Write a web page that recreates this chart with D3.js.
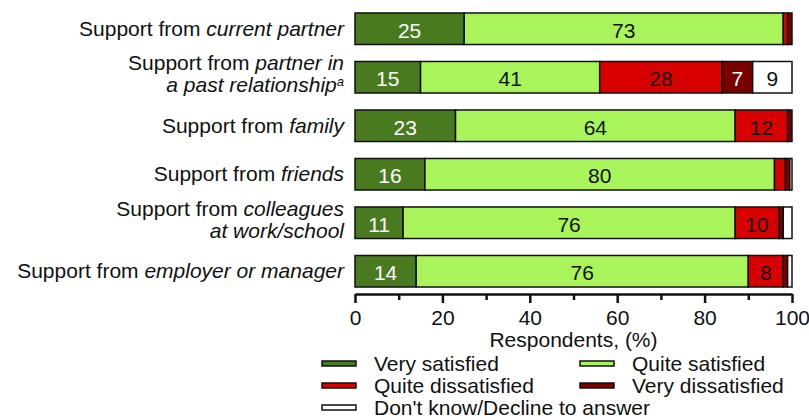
<!DOCTYPE html>
<html>
<head>
<meta charset="utf-8">
<script src="https://cdn.jsdelivr.net/npm/d3@7"></script>
<style>
  body { margin: 0; background: #fff; }
  text { font-family: "Liberation Sans", Arial, sans-serif; fill: #111; }
</style>
</head>
<body>
<svg id="chart" width="809" height="419"></svg>
<script>
// row labels: each row is a list of lines, each line a list of [text, style]
const rowLabels = [
  [[["Support from ", ""], ["current partner", "i"]]],
  [[["Support from ", ""], ["partner in", "i"]], [["a past relationship", "i"], ["a", "sup"]]],
  [[["Support from ", ""], ["family", "i"]]],
  [[["Support from ", ""], ["friends", "i"]]],
  [[["Support from ", ""], ["colleagues", "i"]], [["at work/school", "i"]]],
  [[["Support from ", ""], ["employer or manager", "i"]]]
];

const verySatisfied = [25, 15, 23, 16, 11, 14];
const quiteSatisfied = [73, 41, 64, 80, 76, 76];
const quiteDissatisfied = [1, 28, 12, 2.5, 10, 8];
const veryDissatisfied = [1, 7, 1, 1, 1, 1];
const dontKnow = [0, 9, 0, 0.5, 2, 1];

const seriesNames = ["Very satisfied", "Quite satisfied", "Quite dissatisfied", "Very dissatisfied", "Don't know/Decline to answer"];
const seriesColors = ["#4a7a20", "#a9f45a", "#d80000", "#7a0000", "#ffffff"];
const labelColors = ["#fff", "#111", "#111", "#fff", "#111"];
const xTicks = [0, 20, 40, 60, 80, 100];

const svg = d3.select("#chart");
const rows = d3.range(rowLabels.length);
const rowData = rows.map((i) => ({
  row: i,
  v0: verySatisfied[i],
  v1: quiteSatisfied[i],
  v2: quiteDissatisfied[i],
  v3: veryDissatisfied[i],
  v4: dontKnow[i]
}));

const x = d3.scaleLinear().domain([0, 100]).range([355, 792]);
const y = d3.scaleBand().domain(rows).range([4.5, 295.5]).paddingInner(0.35).paddingOuter(0.175);
const color = d3.scaleOrdinal().domain(d3.range(5)).range(seriesColors);

const stacked = d3.stack().keys(["v0", "v1", "v2", "v3", "v4"])(rowData);

// bars
const layers = svg.append("g").selectAll("g")
  .data(stacked)
  .join("g")
  .attr("fill", (d, i) => color(i));

layers.selectAll("rect")
  .data((d) => d)
  .join("rect")
  .attr("x", (d) => x(d[0]))
  .attr("y", (d) => y(d.data.row))
  .attr("width", (d) => Math.max(0, x(d[1]) - x(d[0])))
  .attr("height", y.bandwidth())
  .attr("stroke", "#111")
  .attr("stroke-width", 1.5);

// value labels
stacked.forEach((layer, k) => {
  svg.append("g").selectAll("text")
    .data(layer.filter((d) => d[1] - d[0] >= 5))
    .join("text")
    .attr("x", (d) => x((d[0] + d[1]) / 2))
    .attr("y", (d) => y(d.data.row) + y.bandwidth() / 2 + 9)
    .attr("text-anchor", "middle")
    .style("font-size", "21px")
    .style("fill", labelColors[k])
    .text((d) => d[1] - d[0]);
});

// row labels
const labelG = svg.append("g");
rowLabels.forEach((lines, i) => {
  const cy = y(i) + y.bandwidth() / 2;
  const offsets = lines.length === 1 ? [7] : [-7, 15];
  lines.forEach((parts, j) => {
    const t = labelG.append("text")
      .attr("x", 344)
      .attr("y", cy + offsets[j])
      .attr("text-anchor", "end")
      .style("font-size", "21px");
    parts.forEach(([txt, st]) => {
      const ts = t.append("tspan").text(txt);
      if (st === "i") ts.style("font-style", "italic");
      if (st === "sup") ts.style("font-style", "italic").style("font-size", "13px").attr("dy", -6);
    });
  });
});

// x axis
const axisY = 294;
const xAxis = svg.append("g")
  .attr("transform", `translate(0,${axisY})`)
  .call(d3.axisBottom(x).tickValues(xTicks).tickSize(9).tickSizeOuter(0).tickPadding(7));
xAxis.select(".domain").attr("stroke", "#111").attr("stroke-width", 2.5);
xAxis.selectAll(".tick line").attr("stroke", "#111").attr("stroke-width", 2.5);
xAxis.selectAll(".tick text")
  .style("font-size", "21px")
  .style("font-family", "'Liberation Sans', Arial, sans-serif")
  .attr("fill", "#111");

svg.append("g")
  .attr("transform", `translate(0,${axisY})`)
  .call(d3.axisBottom(x).tickValues([10, 30, 50, 70, 90]).tickSize(6).tickFormat(""))
  .call((g) => g.select(".domain").remove())
  .selectAll(".tick line").attr("stroke", "#111").attr("stroke-width", 2.5);

svg.append("text")
  .attr("x", (x.range()[0] + x.range()[1]) / 2)
  .attr("y", 347)
  .attr("text-anchor", "middle")
  .style("font-size", "21px")
  .text("Respondents, (%)");

// legend
const legendPos = [[322, 371], [580, 371], [322, 393], [580, 393], [322, 415]];
const legend = svg.append("g").selectAll("g")
  .data(seriesNames)
  .join("g")
  .attr("transform", (d, i) => `translate(${legendPos[i][0]},${legendPos[i][1]})`);

legend.append("rect")
  .attr("x", 0)
  .attr("y", -10)
  .attr("width", 34)
  .attr("height", 5)
  .attr("fill", (d, i) => color(i))
  .attr("stroke", "#111")
  .attr("stroke-width", 1.5);

legend.append("text")
  .attr("x", 52)
  .attr("y", 0)
  .style("font-size", "21px")
  .text((d) => d);
</script>
</body>
</html>
